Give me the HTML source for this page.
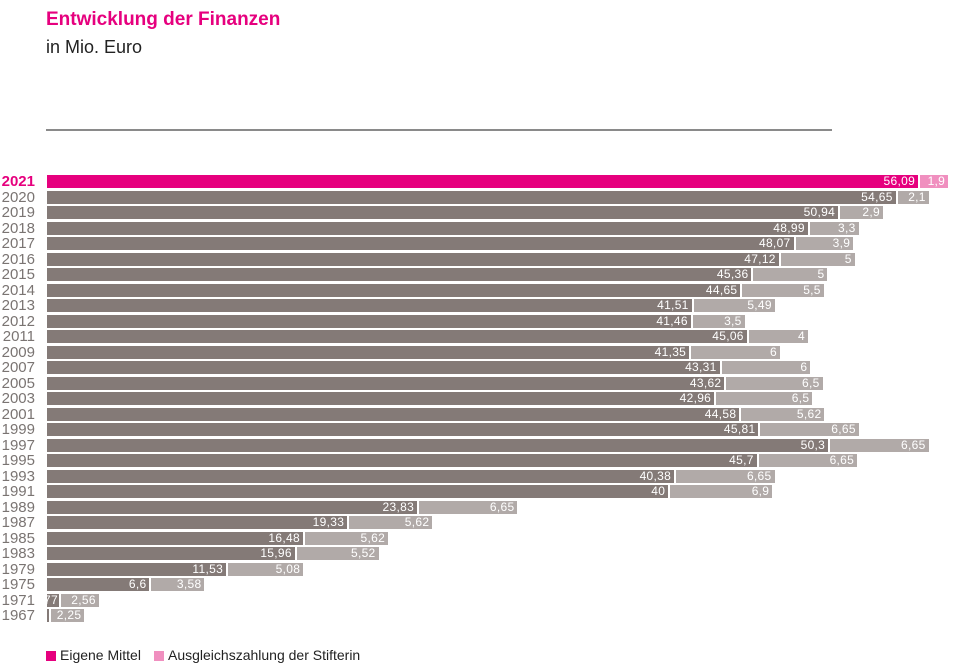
<!DOCTYPE html>
<html><head><meta charset="utf-8"><style>
body{margin:0;width:964px;height:667px;background:#fff;position:relative;overflow:hidden;font-family:"Liberation Sans",Arial,sans-serif}
.t{position:absolute;left:46px;top:9px;font-size:19px;font-weight:bold;color:#e6007e}
.st{position:absolute;left:46px;top:37px;font-size:18px;color:#222}
.ln{position:absolute;left:46px;top:129px;width:786px;height:2px;background:#8a8a8a}
.rows{position:absolute;left:0;top:174px}
.r{height:15.5px;position:relative}
.y{position:absolute;left:0;width:35px;text-align:right;font-size:15px;line-height:15.5px;color:#7a7472;top:0}
.b{position:absolute;left:47px;top:1px;display:flex;height:13px}
.s{height:13px;display:flex;justify-content:flex-end;overflow:hidden;white-space:nowrap;color:#fff;font-size:12px;line-height:13px;margin-right:2px;box-sizing:border-box;padding-right:3px;letter-spacing:0.3px}
.d{background:#847a77}.l{background:#b1aaa8}
.p .d{background:#e6007e}.p .l{background:#f08fbf}.p .y{color:#e6007e;font-weight:bold}
.lg{position:absolute;top:647px;font-size:14px;color:#222;line-height:16px}
.sq{display:inline-block;width:10px;height:10px;margin-right:4px;vertical-align:-1px}
</style></head><body>
<div class="t">Entwicklung der Finanzen</div>
<div class="st">in Mio. Euro</div>
<div class="ln"></div>
<div class="rows">
<div class="r p"><div class="y">2021</div><div class="b"><div class="s d" style="width:calc(15.53px*56.09)">56,09</div><div class="s l" style="width:calc(14.8px*1.9)">1,9</div></div></div>
<div class="r"><div class="y">2020</div><div class="b"><div class="s d" style="width:calc(15.53px*54.65)">54,65</div><div class="s l" style="width:calc(14.8px*2.1)">2,1</div></div></div>
<div class="r"><div class="y">2019</div><div class="b"><div class="s d" style="width:calc(15.53px*50.94)">50,94</div><div class="s l" style="width:calc(14.8px*2.9)">2,9</div></div></div>
<div class="r"><div class="y">2018</div><div class="b"><div class="s d" style="width:calc(15.53px*48.99)">48,99</div><div class="s l" style="width:calc(14.8px*3.3)">3,3</div></div></div>
<div class="r"><div class="y">2017</div><div class="b"><div class="s d" style="width:calc(15.53px*48.07)">48,07</div><div class="s l" style="width:calc(14.8px*3.9)">3,9</div></div></div>
<div class="r"><div class="y">2016</div><div class="b"><div class="s d" style="width:calc(15.53px*47.12)">47,12</div><div class="s l" style="width:calc(14.8px*5)">5</div></div></div>
<div class="r"><div class="y">2015</div><div class="b"><div class="s d" style="width:calc(15.53px*45.36)">45,36</div><div class="s l" style="width:calc(14.8px*5)">5</div></div></div>
<div class="r"><div class="y">2014</div><div class="b"><div class="s d" style="width:calc(15.53px*44.65)">44,65</div><div class="s l" style="width:calc(14.8px*5.5)">5,5</div></div></div>
<div class="r"><div class="y">2013</div><div class="b"><div class="s d" style="width:calc(15.53px*41.51)">41,51</div><div class="s l" style="width:calc(14.8px*5.49)">5,49</div></div></div>
<div class="r"><div class="y">2012</div><div class="b"><div class="s d" style="width:calc(15.53px*41.46)">41,46</div><div class="s l" style="width:calc(14.8px*3.5)">3,5</div></div></div>
<div class="r"><div class="y">2011</div><div class="b"><div class="s d" style="width:calc(15.53px*45.06)">45,06</div><div class="s l" style="width:calc(14.8px*4)">4</div></div></div>
<div class="r"><div class="y">2009</div><div class="b"><div class="s d" style="width:calc(15.53px*41.35)">41,35</div><div class="s l" style="width:calc(14.8px*6)">6</div></div></div>
<div class="r"><div class="y">2007</div><div class="b"><div class="s d" style="width:calc(15.53px*43.31)">43,31</div><div class="s l" style="width:calc(14.8px*6)">6</div></div></div>
<div class="r"><div class="y">2005</div><div class="b"><div class="s d" style="width:calc(15.53px*43.62)">43,62</div><div class="s l" style="width:calc(14.8px*6.5)">6,5</div></div></div>
<div class="r"><div class="y">2003</div><div class="b"><div class="s d" style="width:calc(15.53px*42.96)">42,96</div><div class="s l" style="width:calc(14.8px*6.5)">6,5</div></div></div>
<div class="r"><div class="y">2001</div><div class="b"><div class="s d" style="width:calc(15.53px*44.58)">44,58</div><div class="s l" style="width:calc(14.8px*5.62)">5,62</div></div></div>
<div class="r"><div class="y">1999</div><div class="b"><div class="s d" style="width:calc(15.53px*45.81)">45,81</div><div class="s l" style="width:calc(14.8px*6.65)">6,65</div></div></div>
<div class="r"><div class="y">1997</div><div class="b"><div class="s d" style="width:calc(15.53px*50.3)">50,3</div><div class="s l" style="width:calc(14.8px*6.65)">6,65</div></div></div>
<div class="r"><div class="y">1995</div><div class="b"><div class="s d" style="width:calc(15.53px*45.7)">45,7</div><div class="s l" style="width:calc(14.8px*6.65)">6,65</div></div></div>
<div class="r"><div class="y">1993</div><div class="b"><div class="s d" style="width:calc(15.53px*40.38)">40,38</div><div class="s l" style="width:calc(14.8px*6.65)">6,65</div></div></div>
<div class="r"><div class="y">1991</div><div class="b"><div class="s d" style="width:calc(15.53px*40)">40</div><div class="s l" style="width:calc(14.8px*6.9)">6,9</div></div></div>
<div class="r"><div class="y">1989</div><div class="b"><div class="s d" style="width:calc(15.53px*23.83)">23,83</div><div class="s l" style="width:calc(14.8px*6.65)">6,65</div></div></div>
<div class="r"><div class="y">1987</div><div class="b"><div class="s d" style="width:calc(15.53px*19.33)">19,33</div><div class="s l" style="width:calc(14.8px*5.62)">5,62</div></div></div>
<div class="r"><div class="y">1985</div><div class="b"><div class="s d" style="width:calc(15.53px*16.48)">16,48</div><div class="s l" style="width:calc(14.8px*5.62)">5,62</div></div></div>
<div class="r"><div class="y">1983</div><div class="b"><div class="s d" style="width:calc(15.53px*15.96)">15,96</div><div class="s l" style="width:calc(14.8px*5.52)">5,52</div></div></div>
<div class="r"><div class="y">1979</div><div class="b"><div class="s d" style="width:calc(15.53px*11.53)">11,53</div><div class="s l" style="width:calc(14.8px*5.08)">5,08</div></div></div>
<div class="r"><div class="y">1975</div><div class="b"><div class="s d" style="width:calc(15.53px*6.6)">6,6</div><div class="s l" style="width:calc(14.8px*3.58)">3,58</div></div></div>
<div class="r"><div class="y">1971</div><div class="b"><div class="s d" style="width:calc(15.53px*0.77);padding-right:1px">0,77</div><div class="s l" style="width:calc(14.8px*2.56)">2,56</div></div></div>
<div class="r"><div class="y">1967</div><div class="b"><div class="s d" style="width:2px;padding:0"></div><div class="s l" style="width:calc(14.8px*2.25)">2,25</div></div></div>
</div>
<div class="lg" style="left:46px"><span class="sq" style="background:#e6007e"></span>Eigene Mittel</div>
<div class="lg" style="left:154px"><span class="sq" style="background:#f08fbf"></span>Ausgleichszahlung der Stifterin</div>
</body></html>
